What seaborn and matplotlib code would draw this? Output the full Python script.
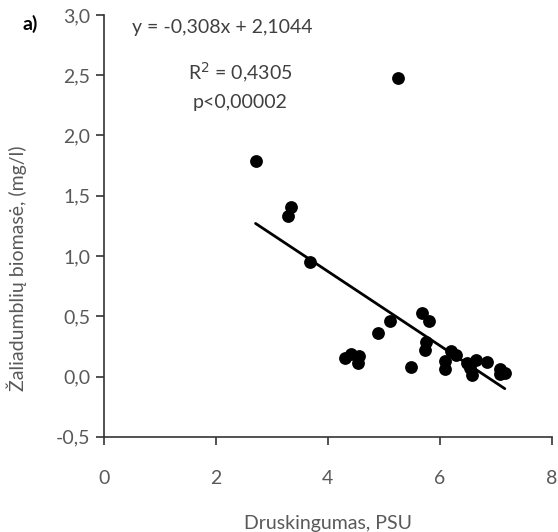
# Salinity vs green algae biomass scatter with regression line.

import numpy as np
import pandas as pd
import matplotlib
matplotlib.use("Agg")
import matplotlib.pyplot as plt
from matplotlib.ticker import FuncFormatter
import seaborn as sns

sns.set_style("ticks")
plt.rcParams['font.family'] = ['Lato', 'DejaVu Sans']

salinity = [5.25, 2.71, 3.34, 3.29, 3.68, 5.11, 4.90, 4.30, 4.42, 4.56,
            4.54, 5.49, 5.69, 5.81, 5.75, 5.73, 6.20, 6.29, 6.09, 6.09,
            6.48, 6.64, 6.58, 6.54, 6.84, 7.08, 7.16, 7.07]
biomass = [2.48, 1.79, 1.41, 1.33, 0.95, 0.46, 0.36, 0.15, 0.19, 0.17,
           0.11, 0.08, 0.53, 0.46, 0.29, 0.22, 0.21, 0.18, 0.13, 0.06,
           0.11, 0.14, 0.01, 0.07, 0.12, 0.06, 0.03, 0.02]

slope = -0.308
intercept = 2.1044
equation_lines = ["y = -0,308x + 2,1044", "R$^2$ = 0,4305", "p<0,00002"]

df = pd.DataFrame({"x": salinity, "y": biomass})
xfit = np.array([df.x.min(), df.x.max()])
fit = pd.DataFrame({"x": xfit, "y": slope * xfit + intercept})

fig = plt.figure(figsize=(5.58, 5.32), dpi=100)
ax = fig.add_axes([0.186, 0.179, 0.803, 0.793])

sns.scatterplot(data=df, x="x", y="y", ax=ax, color="black", s=85,
                edgecolor="black", linewidth=0, zorder=3)
sns.lineplot(data=fit, x="x", y="y", ax=ax, color="black", linewidth=2, zorder=2)

ax.set_xlim(0, 8)
ax.set_ylim(-0.5, 3.0)
ax.set_xticks([0, 2, 4, 6, 8])
ax.set_yticks(np.arange(-0.5, 3.01, 0.5))
ax.yaxis.set_major_formatter(FuncFormatter(lambda v, p: f"{v:.1f}".replace(".", ",")))
ax.xaxis.set_major_formatter(FuncFormatter(lambda v, p: f"{v:.0f}"))
sns.despine(ax=ax)
for sp in ["left", "bottom"]:
    ax.spines[sp].set_color("#333333")
    ax.spines[sp].set_linewidth(1.2)
ax.tick_params(colors="#333333", labelcolor="#595959", labelsize=14,
               length=6, width=1.2)
ax.tick_params(axis="x", pad=18)

ax.set_xlabel("Druskingumas, PSU", fontsize=14, color="#595959")
ax.xaxis.set_label_coords(0.5, -0.185)
ax.set_ylabel("Žaliadumblių biomasė, (mg/l)", fontsize=14, color="#595959")
ax.yaxis.set_label_coords(-0.172, 0.40)

fig.text(0.237, 0.949, equation_lines[0], ha="left", va="center",
         fontsize=14, color="#404040")
fig.text(0.43, 0.862, equation_lines[1], ha="center", va="center",
         fontsize=14, color="#404040")
fig.text(0.43, 0.808, equation_lines[2], ha="center", va="center",
         fontsize=14, color="#404040")
fig.text(0.04, 0.955, "a)", fontsize=14, fontweight="bold", color="black",
         ha="left", va="center")

fig.savefig("out.png", dpi=100)
